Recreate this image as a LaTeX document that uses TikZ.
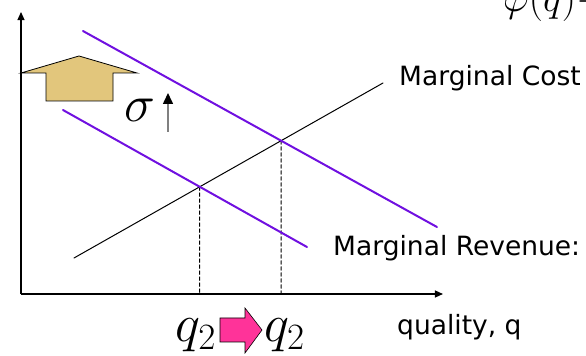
\RequirePackage{fix-cm}
\documentclass[tikz,border=0pt]{standalone}
\usepackage{fontspec}
\setsansfont{DejaVu Sans}
\usepackage{tikz}
\usetikzlibrary{arrows.meta}
\usepackage{tkz-euclide}

\definecolor{mrpurple}{RGB}{112,16,224}
\definecolor{beige}{RGB}{226,198,124}
\definecolor{hotpink}{RGB}{255,51,153}

\begin{document}
\begin{tikzpicture}[scale=0.3514,
    mrline/.style={line width=2pt, color=mrpurple},
    mcline/.style={line width=1pt, color=black},
    axisline/.style={line width=1.2pt, -{Triangle[length=8pt,width=7pt]}},
    dropline/.style={line width=1pt, color=black, dash pattern=on 3.5pt off 2.5pt},
    lbl/.style={font=\sffamily\fontsize{26.5}{30}\selectfont, inner sep=0pt},
    mathbig/.style={font=\fontsize{53}{60}\selectfont, inner sep=0pt},
    mathmid/.style={font=\fontsize{52}{58}\selectfont, inner sep=0pt},
    mathtop/.style={font=\fontsize{40}{48}\selectfont, inner sep=0pt}]
    \useasboundingbox (0,0) rectangle (58.6,35.6);

    % --- 1. 座標軸 O, X, Y ---
    \tkzDefPoint(2.1,6.2){O}
    \tkzDefPoint(2.1,34.4){Y}
    \tkzDefPoint(44.3,6.2){X}

    % --- 2. 邊際成本 C_1C_2 與兩條邊際收益 S (舊), R (新) ---
    \tkzDefPoint(7.4,9.8){C_1}
    \tkzDefPoint(38.3,27.3){C_2}
    \tkzDefPoint(8.3,32.5){R_1}
    \tkzDefPoint(43.7,12.9){R_2}
    \tkzDefPoint(6.3,24.6){S_1}
    \tkzDefPoint(30.7,10.9){S_2}

    % --- 3. 求交點 P, Q 與其在 x 軸上的垂足 ---
    \tkzInterLL(C_1,C_2)(S_1,S_2) \tkzGetPoint{P}
    \tkzInterLL(C_1,C_2)(R_1,R_2) \tkzGetPoint{Q}
    \tkzDefPointBy[projection = onto O--X](P) \tkzGetPoint{P_x}
    \tkzDefPointBy[projection = onto O--X](Q) \tkzGetPoint{Q_x}

    % --- 4. 繪製線段 ---
    \tkzDrawSegments[dropline](P,P_x Q,Q_x)
    \tkzDrawSegment[mcline](C_1,C_2)
    \tkzDrawSegments[mrline](R_1,R_2 S_1,S_2)
    \draw[axisline] (O) -- (Y);
    \draw[axisline] (O) -- (X);

    % --- 5. 兩個粗箭頭 ---
    \filldraw[fill=beige, draw=black, line width=0.8pt]
        (2.1,28.3) -- (7.9,30.0) -- (13.7,28.3) -- (11.3,28.3)
        -- (11.3,25.5) -- (4.6,25.5) -- (4.6,28.3) -- cycle;
    \filldraw[fill=hotpink, draw=black, line width=0.6pt]
        (22.0,3.8) -- (24.5,3.8) -- (24.5,4.8) -- (26.2,2.6)
        -- (24.5,0.3) -- (24.5,1.4) -- (22.0,1.4) -- cycle;
    \draw[gray, line width=1.5pt, -{Triangle[length=11pt,width=10pt,color=black]}]
        (16.8,22.4) -- (16.8,26.3);

    % --- 6. 標籤 ---
    \node[mathmid] (sig) at (14.0,24.6) {$\sigma$};
    \node[mathbig, anchor=base east] (q_old) at (21.6,1.4) {$q_2$};
    \node[mathbig, anchor=base west] (q_new) at (26.4,1.4) {$q_2$};
    \node[mathtop, anchor=base west] (phi) at (50.3,34.4) {$\varphi(q)-$};
    \node[lbl, anchor=base west] (mc_lbl) at (39.9,27.0) {Marginal Cost};
    \node[lbl, anchor=base west] (mr_lbl) at (33.3,10.0) {Marginal Revenue:};
    \node[lbl, anchor=base west] (q_lbl) at (39.7,2.1) {quality, q};
\end{tikzpicture}
\end{document}
